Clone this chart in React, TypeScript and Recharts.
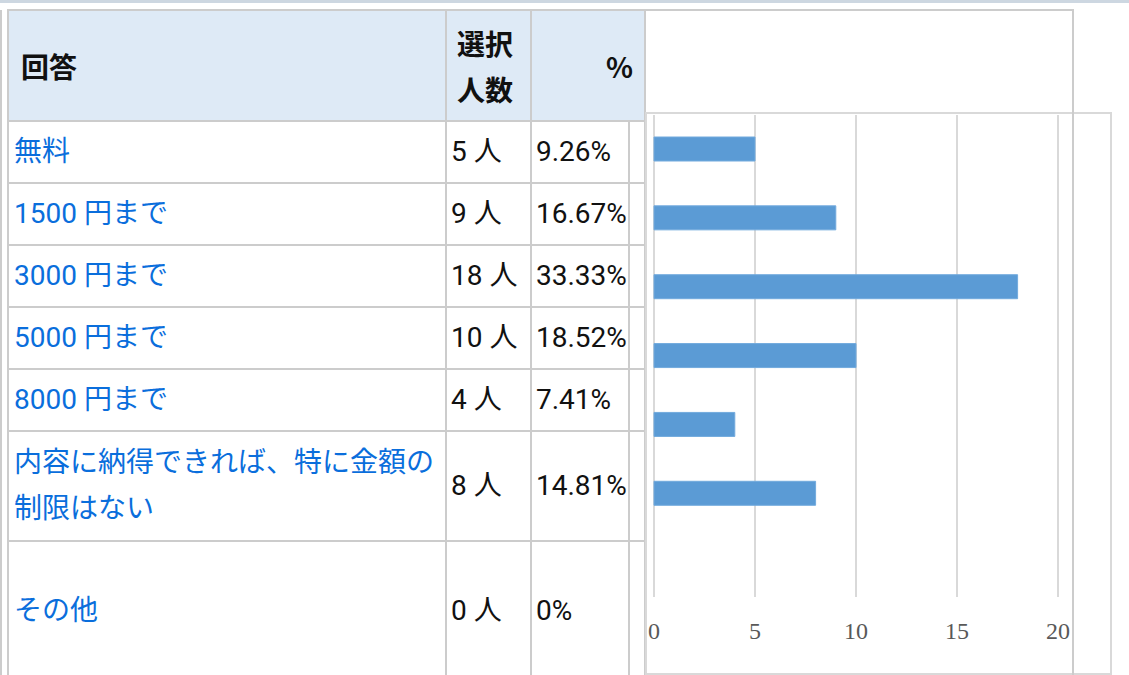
import React from 'react';
import { BarChart, Bar, XAxis, YAxis, CartesianGrid } from 'recharts';

const answers = [
  '無料',
  '1500 円まで',
  '3000 円まで',
  '5000 円まで',
  '8000 円まで',
  '内容に納得できれば、特に金額の制限はない',
  'その他',
];
const counts = [5, 9, 18, 10, 4, 8, 0];
const percents = ['9.26%', '16.67%', '33.33%', '18.52%', '7.41%', '14.81%', '0%'];
const xTicks = [0, 5, 10, 15, 20];

// table grid lines (page px)
const cols = [8, 446, 531, 629, 645, 1073];
const rows = [10, 121, 183, 245, 307, 369, 431, 541, 680];

const LINE = '#cccccc';
const HEAD_BG = '#deeaf6';
const LINK = '#0a6edc';
const FONT = "Roboto, 'Noto Sans CJK JP', sans-serif";
const HEAD_FONT = "'Noto Sans CJK JP', sans-serif";

const chartData = answers.map((answer, i) => ({ answer, count: counts[i] }));

type BoxProps = {
  c0: number;
  c1: number;
  r0: number;
  r1: number;
  bg?: string;
  style?: React.CSSProperties;
  children?: React.ReactNode;
};

const Box: React.FC<BoxProps> = ({ c0, c1, r0, r1, bg = '#fff', style, children }) => (
  <div
    style={{
      position: 'absolute',
      left: cols[c0] - 1,
      top: rows[r0] - 1,
      width: cols[c1] - cols[c0] + 2,
      height: rows[r1] - rows[r0] + 2,
      border: `2px solid ${LINE}`,
      boxSizing: 'border-box',
      background: bg,
      display: 'flex',
      alignItems: 'center',
      fontSize: 28,
      lineHeight: '46px',
      ...style,
    }}
  >
    {children}
  </div>
);

const PriceChart: React.FC = () => (
  <div
    style={{
      position: 'absolute',
      left: 645,
      top: 112,
      width: 467,
      height: 563,
      border: '2px solid #d9d9d9',
      boxSizing: 'border-box',
      background: '#fff',
    }}
  >
    <BarChart
      width={463}
      height={559}
      data={chartData}
      layout="vertical"
      margin={{ top: 1, right: 52, bottom: 46, left: 7 }}
    >
      <CartesianGrid horizontal={false} stroke="#d9d9d9" strokeWidth={2} />
      <XAxis
        type="number"
        domain={[0, 20]}
        ticks={xTicks}
        axisLine={false}
        tickLine={false}
        tickSize={0}
        tickMargin={25}
        height={30}
        tick={{ fill: '#595959', fontSize: 24, fontFamily: "'Liberation Serif', serif" }}
      />
      <YAxis type="category" dataKey="answer" hide />
      <Bar
        dataKey="count"
        fill="#5b9bd5"
        stroke="#72aadd"
        strokeWidth={1}
        barSize={24}
        isAnimationActive={false}
      />
    </BarChart>
  </div>
);

const App: React.FC = () => (
  <div
    style={{
      position: 'absolute',
      left: 0,
      top: 0,
      width: 1129,
      height: 675,
      overflow: 'hidden',
      background: '#fff',
      fontFamily: FONT,
      color: '#111',
    }}
  >
    <div style={{ position: 'absolute', left: 0, top: 0, width: 1129, height: 3, background: '#cdd7e1' }} />
    <div style={{ position: 'absolute', left: 0, top: 10, width: 2, height: 665, background: LINE }} />

    {/* header */}
    <Box
      c0={0}
      c1={1}
      r0={0}
      r1={1}
      bg={HEAD_BG}
      style={{ paddingLeft: 12, fontWeight: 700, fontFamily: HEAD_FONT }}
    >
      回答
    </Box>
    <Box
      c0={1}
      c1={2}
      r0={0}
      r1={1}
      bg={HEAD_BG}
      style={{ paddingLeft: 10, fontWeight: 700, fontFamily: HEAD_FONT }}
    >
      <div>
        選択
        <br />
        人数
      </div>
    </Box>
    <Box
      c0={2}
      c1={4}
      r0={0}
      r1={1}
      bg={HEAD_BG}
      style={{ justifyContent: 'flex-end', paddingRight: 11, fontWeight: 700, fontFamily: HEAD_FONT }}
    >
      %
    </Box>
    <Box c0={4} c1={5} r0={0} r1={1} />

    {/* body */}
    {answers.map((a, i) => (
      <React.Fragment key={a}>
        <Box c0={0} c1={1} r0={i + 1} r1={i + 2} style={{ paddingLeft: 5, color: LINK }}>
          <div>{a}</div>
        </Box>
        <Box c0={1} c1={2} r0={i + 1} r1={i + 2} style={{ paddingLeft: 4, whiteSpace: 'nowrap' }}>
          {counts[i]} 人
        </Box>
        <Box c0={2} c1={3} r0={i + 1} r1={i + 2} style={{ paddingLeft: 4, whiteSpace: 'nowrap' }}>
          {percents[i]}
        </Box>
        <Box c0={3} c1={4} r0={i + 1} r1={i + 2} />
      </React.Fragment>
    ))}
    <Box c0={4} c1={5} r0={1} r1={8} />

    <PriceChart />
    <div style={{ position: 'absolute', left: 1072, top: 10, width: 2, height: 665, background: LINE }} />
  </div>
);

export default App;
